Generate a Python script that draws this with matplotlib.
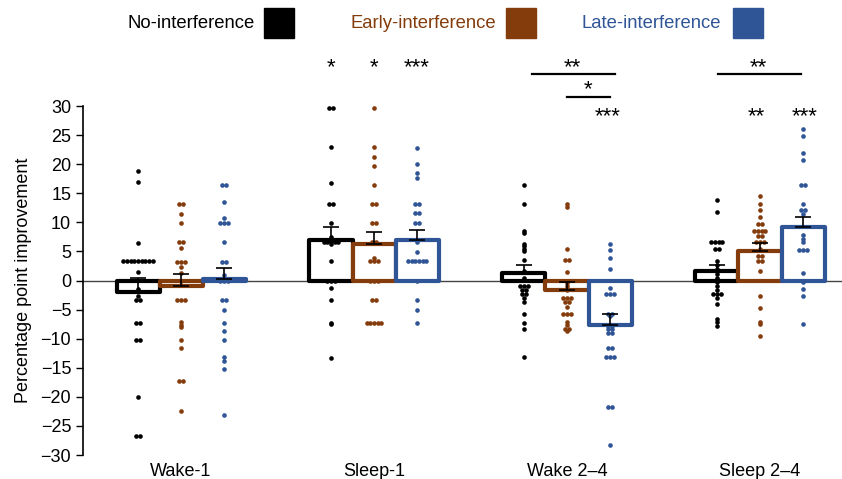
import numpy as np
import matplotlib.pyplot as plt
from matplotlib.patches import Rectangle

plt.rcParams['font.family'] = ['Liberation Sans', 'DejaVu Sans']
plt.rcParams['font.size'] = 13

groups = ["Wake-1", "Sleep-1", "Wake 2–4", "Sleep 2–4"]
conditions = ["No-interference", "Early-interference", "Late-interference"]
colors = ["#000000", "#843C0C", "#2F5597"]

# bar heights (mean) and SEM, rows = condition
means = [[-2.0, 6.9, 1.3, 1.7],
         [-1.0, 6.3, -1.6, 5.0],
         [0.2, 6.9, -7.6, 9.2]]
sems = [[2.4, 2.3, 1.3, 0.9],
        [2.1, 2.0, 1.4, 1.4],
        [1.9, 1.7, 1.9, 1.8]]

# individual participants
no_w1 = [18.8, 16.9, 6.5, 3.3, 3.3, 3.3, 3.3, 3.3, 3.3, 3.3, 3.3, 3.3, 1.4, -1.5,
         -2.7, -3.3, -3.3, -7.3, -7.3, -10.3, -10.3, -20.1, -26.7, -26.7]
early_w1 = [13.2, 13.2, 11.5, 9.8, 6.6, 6.6, 5.6, 3.2, 3.2, 3.2, 2.4, 1.3, -0.1,
            -3.3, -3.3, -3.3, -7.1, -7.6, -8.0, -10.3, -11.6, -17.2, -17.2, -22.5]
late_w1 = [16.5, 16.5, 13.5, 10.8, 9.8, 9.8, 9.8, 6.6, 3.2, 3.2, 0.9, 0.0, 0.0, 0.0,
           -3.3, -3.3, -5.0, -7.3, -8.6, -10.3, -13.2, -13.9, -15.2, -23.1]

no_s1 = [29.6, 29.6, 23.0, 16.7, 13.2, 13.2, 9.9, 7.5, 6.6, 6.6, 6.6, 6.6, 6.6, 6.2,
         3.3, 0.0, 0.0, 0.0, -1.3, -3.3, -7.3, -7.5, -13.3]
early_s1 = [29.6, 23.0, 21.3, 19.7, 16.4, 13.2, 13.2, 9.9, 9.9, 6.6, 6.6, 3.9, 3.3,
            3.3, 3.3, 0.0, 0.0, 0.0, -3.3, -3.3, -7.3, -7.3, -7.3, -7.3, -7.3]
late_s1 = [22.8, 20.1, 18.4, 17.6, 13.2, 13.2, 11.6, 11.6, 9.9, 9.9, 6.6, 4.9, 3.3,
           3.3, 3.3, 3.3, 3.3, 3.3, 0.0, -3.3, -5.0, -7.3]

no_w24 = [16.4, 13.2, 8.5, 8.2, 6.3, 5.9, 5.5, 5.1, 3.6, 1.6, 0.4, -0.9, -0.9, -0.9,
          -1.7, -1.7, -2.4, -2.4, -3.0, -3.7, -5.7, -7.3, -8.3, -13.2]
early_w24 = [13.2, 12.7, 5.5, 3.6, 3.6, 1.5, -0.5, -1.0, -1.6, -3.0, -3.0, -3.0, -3.7,
             -3.7, -4.5, -5.7, -5.7, -5.7, -7.2, -7.7, -8.3, -8.3, -8.7]
late_w24 = [6.3, 5.2, 3.8, 2.0, -1.3, -2.4, -2.4, -2.4, -5.7, -5.7, -6.1, -7.8, -7.8,
            -8.3, -8.3, -9.0, -9.0, -11.6, -11.6, -13.2, -13.2, -13.2, -21.8, -21.8, -28.3]

no_s24 = [13.9, 11.8, 6.6, 6.6, 6.6, 6.6, 5.5, 5.5, 3.3, 2.6, 1.9, 1.2, 0.4, -0.3,
          -1.0, -1.7, -2.3, -2.3, -2.3, -3.0, -4.0, -6.6, -7.1, -7.8]
early_s24 = [14.6, 13.2, 12.1, 10.9, 9.7, 9.7, 8.5, 8.5, 8.5, 8.5, 7.6, 7.6, 6.6, 6.6,
             6.6, 5.5, 4.2, 4.2, 3.3, 3.3, 1.6, -2.7, -4.7, -7.1, -7.5, -9.6]
late_s24 = [26.0, 24.9, 22.0, 20.8, 16.5, 16.5, 13.1, 12.2, 12.2, 11.5, 7.9, 7.2, 6.6,
            5.3, 5.3, 5.3, 1.3, -0.3, -1.4, -2.7, -7.4]

points = [[no_w1, no_s1, no_w24, no_s24],
          [early_w1, early_s1, early_w24, early_s24],
          [late_w1, late_s1, late_w24, late_s24]]

# significance markers: (x, y, text)
stars = [(0.777, 35.6, "*"), (1.0, 35.6, "*"), (1.223, 35.6, "***"),
         (2.03, 35.7, "**"), (2.11, 31.8, "*"), (2.21, 27.3, "***"),
         (2.99, 35.7, "**"), (2.98, 27.3, "**"), (3.23, 27.3, "***")]
brackets = [(1.82, 2.25, 35.5), (2.0, 2.225, 31.6), (2.78, 3.21, 35.5)]


def swarm(vals, dx=0.019):
    vals = np.asarray(vals)
    offs = np.zeros(len(vals))
    for v in np.unique(vals):
        idx = np.where(vals == v)[0]
        offs[idx] = (np.arange(len(idx)) - (len(idx) - 1) / 2) * dx
    return offs


W, H = 842, 479
fig = plt.figure(figsize=(W / 100, H / 100), dpi=100)
ax = fig.add_axes([0.0986, 0.0501, 0.9014, 0.7286])

x = np.arange(len(groups))
w = 0.223
for i in range(3):
    xs = x + (i - 1) * w
    bars = ax.bar(xs, means[i], width=w, facecolor="white", edgecolor=colors[i],
                  linewidth=3, zorder=2)
    for b in bars:
        b.set_joinstyle("round")
    for j in range(len(groups)):
        vals = np.asarray(points[i][j])
        ax.scatter(xs[j] + swarm(vals), vals, s=11, color=colors[i],
                   linewidths=0, zorder=3)
    ax.errorbar(xs, means[i], yerr=[np.zeros(4), sems[i]], fmt="none",
                ecolor="black", elinewidth=1.2, capsize=6, capthick=1.2, zorder=4)

ax.axhline(0, color="#444444", lw=1, zorder=1)

for x0, x1, y in brackets:
    ax.plot([x0, x1], [y, y], color="black", lw=1.6, clip_on=False)
for xt, yt, t in stars:
    ax.text(xt, yt, t, ha="center", va="baseline", fontsize=16, clip_on=False)

ax.set_xlim(-0.508, 3.425)
ax.set_ylim(-30, 30)
ax.set_yticks(np.arange(-30, 31, 5))
ax.set_xticks(x)
ax.set_xticklabels(groups)
ax.tick_params(axis="x", length=0, pad=6)
ax.tick_params(axis="y", length=5, width=1, direction="out")
for s in ["top", "right", "bottom"]:
    ax.spines[s].set_visible(False)
ax.spines["left"].set_linewidth(1.2)
ax.set_ylabel("Percentage point improvement", labelpad=6)

# legend: label text followed by a coloured square
text_right = [255, 496, 721]
box_left = [264, 506, 733]
for lab, c, tr, bl in zip(conditions, colors, text_right, box_left):
    fig.text(tr / W, 1 - 23 / H, lab, color=c, ha="right", va="center", fontsize=13.3)
    fig.patches.append(Rectangle((bl / W, 1 - 38 / H), 30 / W, 30 / H,
                                 transform=fig.transFigure, facecolor=c,
                                 edgecolor=c, figure=fig))

fig.savefig("out.png", dpi=100)
